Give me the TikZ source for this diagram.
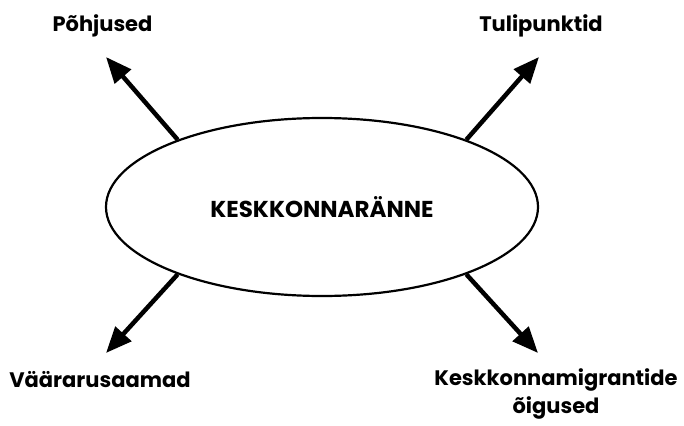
\documentclass[tikz,border=0pt]{standalone}
\usepackage{fontspec}
\setmainfont{Poppins}
\usepackage{tikz}
\usetikzlibrary{arrows.meta,shapes.geometric,positioning}

\tikzset{
  centre/.style={ellipse,draw,line width=2.2pt,inner sep=0pt,
    minimum width=432pt,minimum height=178pt,font=\bfseries\fontsize{23}{27}\selectfont},
  label/.style={font=\bfseries\fontsize{21}{28}\selectfont,align=center,inner sep=0pt},
  spoke/.style={line width=4.5pt,-{Triangle[length=26pt,width=21pt]}}
}

\begin{document}
\begin{tikzpicture}[x=1pt,y=-1pt]
        \useasboundingbox (0,0) rectangle (684,425);
        \node[centre] (kesk) at (322,207) {KESKKONNARÄNNE};
        \node[label] (pohj) at (102.5,26) {Põhjused};
        \node[label] (tuli) at (541,26) {Tulipunktid};
        \node[label] (vaar) at (100,380) {Väärarusaamad};
        \node[label] (oigu) at (556,394) {Keskkonnamigrantide\\õigused};
        % arrow tips
        \coordinate (tipPohj) at (106,57);
        \coordinate (tipTuli) at (539,57);
        \coordinate (tipVaar) at (106,353);
        \coordinate (tipOigu) at (538,353);
        \draw[spoke] (kesk.155) -- (tipPohj);
        \draw[spoke] (kesk.25) -- (tipTuli);
        \draw[spoke] (kesk.205) -- (tipVaar);
        \draw[spoke] (kesk.335) -- (tipOigu);
      \end{tikzpicture}
\end{document}
